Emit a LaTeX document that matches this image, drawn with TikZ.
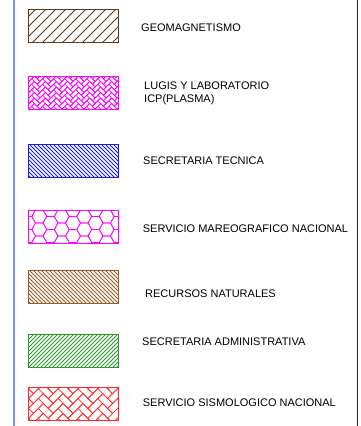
\documentclass[tikz,border=0pt]{standalone}
\usepackage{fontspec}
\setmainfont{Liberation Sans}
\usetikzlibrary{
  positioning
}
\usepackage{xcolor}
\definecolor{lgbrown}{HTML}{5C3A1E}
\definecolor{lgmagenta}{HTML}{FF00FF}
\definecolor{lgblue}{HTML}{1A1AE6}
\definecolor{lgrust}{HTML}{9B5A2A}
\definecolor{lggreen}{HTML}{2E9A2E}
\definecolor{lgred}{HTML}{FF2A2A}
\definecolor{rulelight}{HTML}{8C8CFF}
\definecolor{ruledark}{HTML}{1A1AD9}

% pattern fillers: #1 node, #2 colour, #3 size
\newcommand{\hatchne}[3]{%
  \begin{scope}
    \clip (#1.south west) rectangle (#1.north east);
    \foreach \i in {0,...,40}
      \draw[#2, line width=0.8pt]
        ([xshift=\i*#3-35pt]#1.south west) -- ++(40pt,40pt);
  \end{scope}
  \draw[#2, line width=0.9pt] (#1.south west) rectangle (#1.north east);}
\newcommand{\hatchnw}[3]{%
  \begin{scope}
    \clip (#1.south west) rectangle (#1.north east);
    \foreach \i in {0,...,40}
      \draw[#2, line width=0.8pt]
        ([xshift=\i*#3-35pt]#1.north west) -- ++(40pt,-40pt);
  \end{scope}
  \draw[#2, line width=0.9pt] (#1.south west) rectangle (#1.north east);}
\newcommand{\herring}[3]{%
  \begin{scope}
    \clip (#1.south west) rectangle (#1.north east);
    \begin{scope}[shift={(#1.center)}, rotate=45, x=#3, y=#3]
      \foreach \k in {-13,...,13}
        \foreach \m in {-7,...,7}
          \draw[#2, line width=0.7pt]
            (\k+2*\m, \k-2*\m) rectangle ++(2,1)
            (\k+2*\m+2, \k-2*\m-1) rectangle ++(1,2);
    \end{scope}
  \end{scope}
  \draw[#2, line width=0.9pt] (#1.south west) rectangle (#1.north east);}
\newcommand{\hexes}[3]{%
  \begin{scope}
    \clip (#1.south west) rectangle (#1.north east);
    \begin{scope}[shift={(#1.north west)}]
      \foreach \i in {0,...,9}
        \foreach \j in {-1,...,3}
          \draw[#2, line width=0.7pt]
            ({1.5*#3*\i}, {-sqrt(3)*#3*\j - mod(\i,2)*sqrt(3)/2*#3})
            ++(0:#3pt) -- ++(120:#3pt) -- ++(180:#3pt) -- ++(240:#3pt)
            -- ++(300:#3pt) -- ++(0:#3pt) -- cycle;
    \end{scope}
  \end{scope}
  \draw[#2, line width=0.9pt] (#1.south west) rectangle (#1.north east);}

\begin{document}
\begin{tikzpicture}[
  x=1pt, y=1pt,
  legbox/.style={fill=white, minimum width=90pt, minimum height=33pt,
    inner sep=0pt, outer sep=0pt},
  leglabel/.style={font=\fontsize{11}{13}\selectfont, align=left,
    inner sep=0pt}
]
  \useasboundingbox (0,0) rectangle (360,-426);

  % side rules
  \draw[rulelight, line width=1.6pt] (14,0) -- (14,-426);
  \draw[ruledark, line width=1pt] (357,0) -- (357,-426);

  % legend boxes
  \node[legbox] (geo) at (73,-25.5) {};
  \node[legbox, below=34pt of geo] (lugis) {};
  \node[legbox, below=35pt of lugis] (tec) {};
  \node[legbox, below=33pt of tec] (mareo) {};
  \node[legbox, below=27pt of mareo] (rec) {};
  \node[legbox, below=31pt of rec] (adm) {};
  \node[legbox, below=20pt of adm] (sis) {};

  \hatchne{geo}{lgbrown}{10pt}
  \herring{lugis}{lgmagenta}{3.9pt}
  \hatchnw{tec}{lgblue}{4pt}
  \hexes{mareo}{lgmagenta}{7.5}
  \hatchnw{rec}{lgrust}{4pt}
  \hatchne{adm}{lggreen}{4pt}
  \herring{sis}{lgred}{7pt}

  % labels
  \node[leglabel, right=23pt of geo, yshift=-2pt] (geolbl) {GEOMAGNETISMO};
  \node[leglabel, right=26pt of lugis, yshift=-1pt] (lugislbl)
    {LUGIS Y LABORATORIO\\ICP(PLASMA)};
  \node[leglabel, right=25pt of tec, yshift=-0.5pt] (teclbl) {SECRETARIA TECNICA};
  \node[leglabel, right=24.7pt of mareo, yshift=-2pt] (mareolbl)
    {SERVICIO MAREOGRAFICO NACIONAL};
  \node[leglabel, right=27pt of rec, yshift=-7pt] (reclbl) {RECURSOS NATURALES};
  \node[leglabel, right=24pt of adm, yshift=9pt] (admlbl)
    {SECRETARIA ADMINISTRATIVA};
  \node[leglabel, right=24.7pt of sis, yshift=1pt] (sislbl)
    {SERVICIO SISMOLOGICO NACIONAL};

\end{tikzpicture}
\end{document}
